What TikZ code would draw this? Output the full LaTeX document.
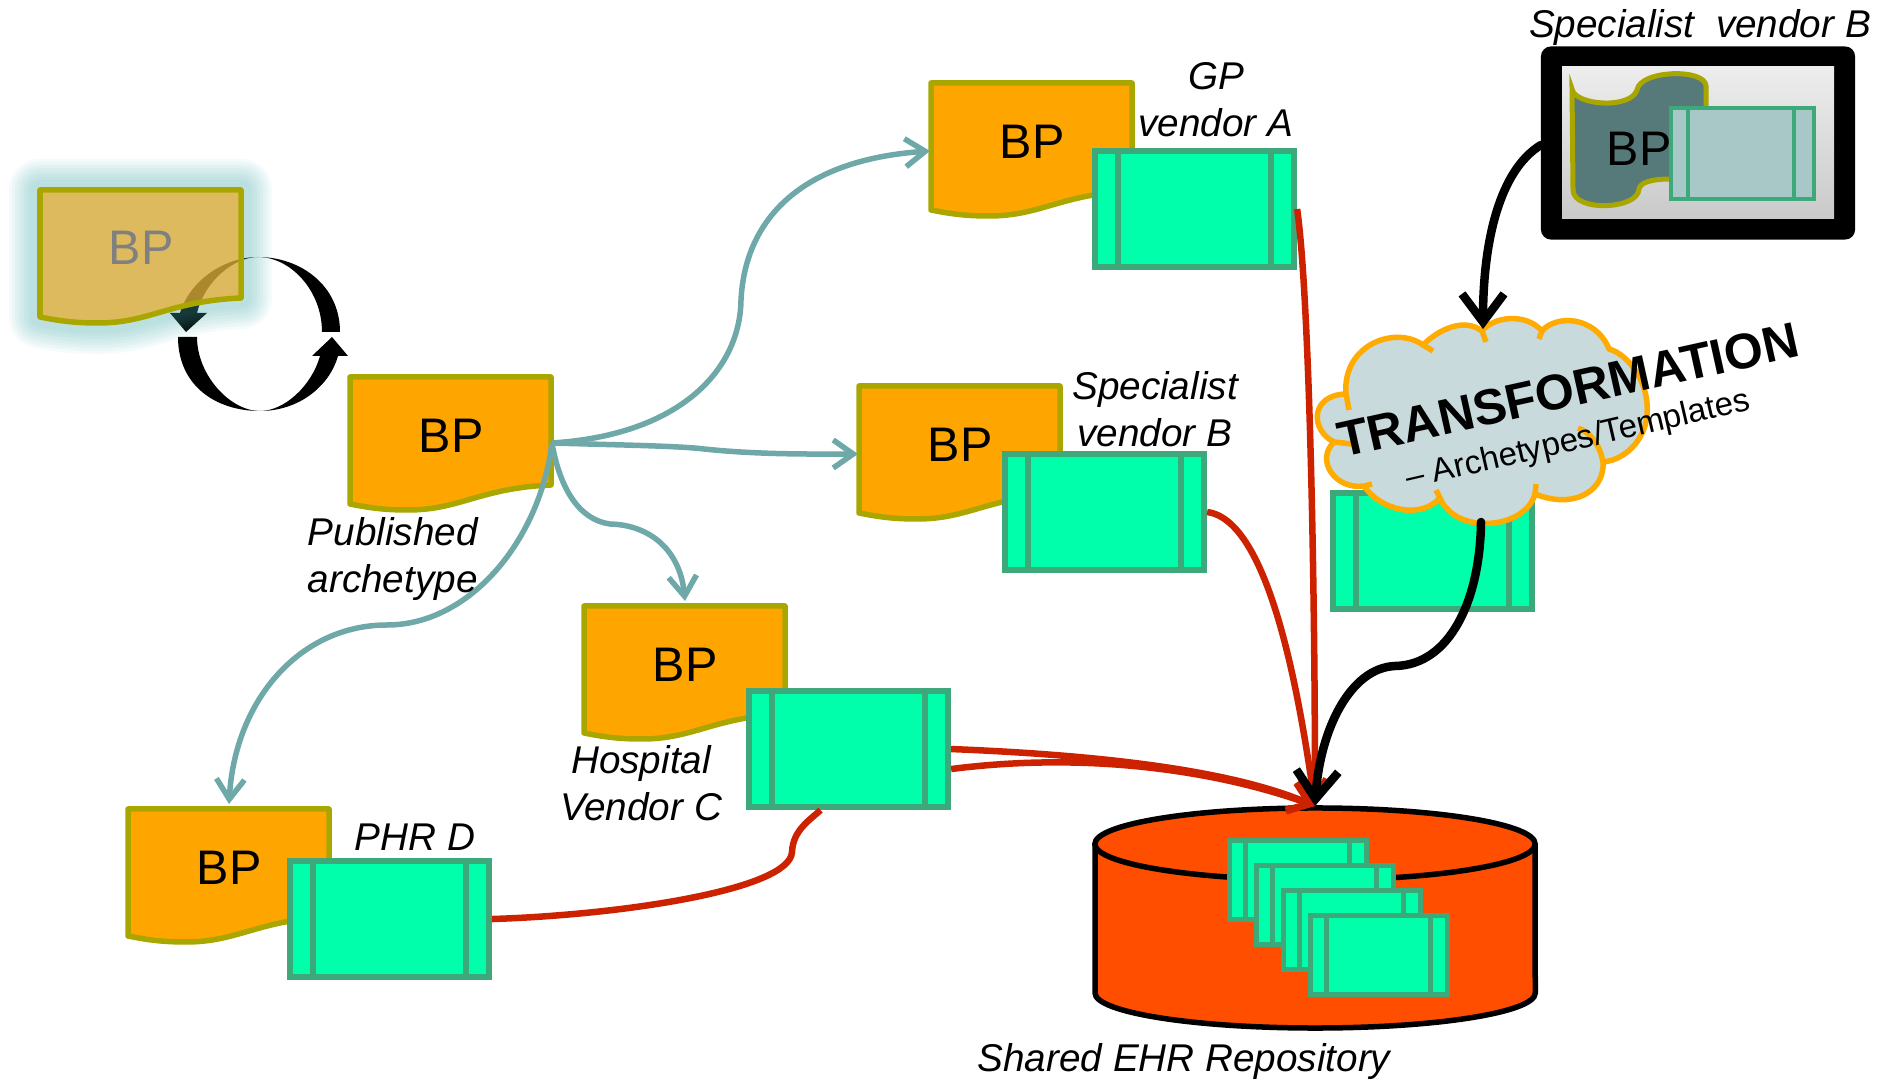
\documentclass[tikz,border=0pt]{standalone}
\usepackage{fontspec}
\setmainfont{Liberation Sans}
\usetikzlibrary{arrows.meta}
\definecolor{docfill}{HTML}{FFA500}
\definecolor{docline}{HTML}{AAA600}
\definecolor{boxfill}{HTML}{00FFAA}
\definecolor{boxline}{HTML}{3DA97A}
\definecolor{tealline}{HTML}{6FA8A8}
\definecolor{glowteal}{HTML}{46AAAA}
\definecolor{ghostfill}{HTML}{ECAA28}
\definecolor{redline}{HTML}{CC2200}
\definecolor{repofill}{HTML}{FF4E00}
\definecolor{cloudfill}{HTML}{C8DADC}
\definecolor{cloudline}{HTML}{FFAB00}
\definecolor{flagfill}{HTML}{567A7A}
\definecolor{paleboxfill}{HTML}{A8C8C8}
\newcommand{\bpoutline}{(0,0) -- (201,0) -- (201,108) .. controls (130,111) and (110,133) .. (58,133) .. controls (35,133) and (20,131) .. (0,127) -- cycle}
\tikzset{
  bptext/.style={font=\fontsize{13.8pt}{15pt}\selectfont,inner sep=0pt},
  vendortext/.style={font=\fontsize{11pt}{13.4pt}\selectfont\itshape,align=center,inner sep=0pt},
  boxshape/.style={draw=boxline,fill=boxfill,line width=.06cm,minimum width=1.99cm,minimum height=1.16cm,inner sep=0pt,outer sep=.03cm,anchor=north west},
  minishape/.style={draw=boxline,fill=boxfill,line width=.05cm,minimum width=1.37cm,minimum height=.79cm,inner sep=0pt,outer sep=.025cm,anchor=north west},
  tealarrow/.style={draw=tealline,line width=.055cm,-{Straight Barb[length=.2cm,width=.28cm]}},
  redarrow/.style={draw=redline,line width=.065cm},
  redtip/.style={redarrow,-{Straight Barb[length=.2cm,width=.3cm]}},
  blackarrow/.style={draw=black,line width=.085cm,line cap=round,-{Straight Barb[length=.28cm,width=.42cm]}},
  cloudtick/.style={draw=cloudline,line width=.055cm},
  pics/bpdoc/.style={code={
    \draw[fill=docfill,draw=docline,line width=.055cm,line join=round] \bpoutline;
    \node[bptext] (-label) at (101,59) {BP};
    \coordinate (-east) at (202,66);
    \coordinate (-west) at (-1,68);
    \coordinate (-north) at (101,-5);
  }},
  pics/ehrbox/.style={code={
    \node[boxshape] (-box) at (0,0) {};
    \draw[boxline,line width=.06cm] (26,3) -- (26,119);
    \draw[boxline,line width=.06cm] (179,3) -- (179,119);
  }},
  pics/minibox/.style={code={
    \node[minishape] (-box) at (0,0) {};
    \draw[boxline,line width=.05cm] (18,3) -- (18,81);
    \draw[boxline,line width=.05cm] (122,3) -- (122,81);
  }}
}
\begin{document}
\begin{tikzpicture}[x=.01cm,y=-.01cm]
  \useasboundingbox (0,0) rectangle (1894,1080);

  \fill (180,313) .. controls (190,280) and (225,257) .. (258,257) .. controls (300,257) and (340,285) .. (340,332) -- (322,332) .. controls (322,290) and (290,257) .. (258,257) .. controls (235,257) and (205,280) .. (197,313) -- (207,313) -- (186,332) -- (170,313) -- cycle;
  \fill (178,337) -- (197,337) .. controls (197,375) and (230,411) .. (260,411) .. controls (285,411) and (312,385) .. (320,356) -- (312,356) -- (332,337) -- (348,356) -- (338,356) .. controls (330,385) and (300,411) .. (260,411) .. controls (215,411) and (178,385) .. (178,337) -- cycle;

  \begin{scope}[shift={(40,190)}]
    \begin{scope}[even odd rule]
      \clip (-100,-100) rectangle (400,300) \bpoutline;
      \foreach \glowwidth in {.62,.56,.5,.44,.38,.32,.26,.2} {
        \draw[line width=\glowwidth cm,line join=round,draw=glowteal,opacity=.053] \bpoutline;
      }
    \end{scope}
    \fill[glowteal,opacity=.35] \bpoutline;
    \fill[ghostfill,fill opacity=.7] \bpoutline;
    \draw[draw=docline,line width=.055cm,line join=round] \bpoutline;
    \node[bptext,text=gray] (ghostlabel) at (101,58) {BP};
  \end{scope}

  \pic (pubdoc) at (350,377) {bpdoc};
  \pic (gpdoc) at (931,83) {bpdoc};
  \pic (specdoc) at (859,386) {bpdoc};
  \pic (hospdoc) at (584,606) {bpdoc};
  \pic (phrdoc) at (128,809) {bpdoc};

  \pic (gpbox) at (1092,148) {ehrbox};
  \pic (specbox) at (1002,451) {ehrbox};
  \pic (hospbox) at (746,688) {ehrbox};
  \pic (phrbox) at (287,858) {ehrbox};
  \pic (transbox) at (1330,490) {ehrbox};

  \draw[tealarrow] (pubdoc-east) .. controls (680,435) and (740,370) .. (741,300) .. controls (745,220) and (800,160) .. (gpdoc-west);
  \draw[tealarrow] (pubdoc-east) .. controls (620,445) and (680,446) .. (704,449) .. controls (760,455) and (820,454) .. (specdoc-west);
  \draw[tealarrow] (pubdoc-east) .. controls (560,490) and (580,520) .. (610,524) .. controls (650,525) and (680,550) .. (hospdoc-north);
  \draw[tealarrow] (pubdoc-east) .. controls (540,540) and (470,625) .. (387,625) .. controls (300,625) and (235,700) .. (phrdoc-north);

  \draw[fill=repofill,draw=black,line width=.055cm] (1095,844) -- (1095,993) arc[start angle=180,end angle=360,x radius=2.2cm,y radius=.35cm] -- (1535,844);
  \draw[fill=repofill,draw=black,line width=.055cm] (1315,844) ellipse[x radius=2.2cm,y radius=.36cm];
  \coordinate (repotop) at (1315,806);
  \pic (stackone) at (1227,838) {minibox};
  \pic (stacktwo) at (1254,863) {minibox};
  \pic (stackthree) at (1281,888) {minibox};
  \pic (stackfour) at (1308,913) {minibox};

  \draw[redtip] (gpbox-box.east) .. controls (1310,300) and (1315,600) .. (repotop);
  \draw[redtip] (specbox-box.east) .. controls (1270,520) and (1300,700) .. (repotop);
  \draw[redtip] (hospbox-box.east) .. controls (1100,755) and (1230,770) .. (repotop);
  \draw[redtip] ([yshift=-.2cm]hospbox-box.east) .. controls (1100,750) and (1230,775) .. (repotop);
  \draw[redarrow] (phrbox-box.east) .. controls (620,915) and (790,890) .. (792,852) .. controls (793,830) and (810,820) .. ([xshift=-.28cm]hospbox-box.south);

  \draw[fill=cloudfill,draw=cloudline,line width=.055cm,line join=round] (1346,394) .. controls (1342,345) and (1395,325) .. (1423,345) .. controls (1440,328) and (1465,318) .. (1482,331) .. controls (1493,317) and (1525,312) .. (1542,331) .. controls (1555,315) and (1595,315) .. (1609,349) .. controls (1630,355) and (1650,385) .. (1647,415) .. controls (1645,440) and (1625,460) .. (1603,462) .. controls (1605,490) and (1575,510) .. (1535,494) .. controls (1525,530) and (1455,535) .. (1440,498) .. controls (1420,520) and (1380,510) .. (1364,486) .. controls (1335,490) and (1315,460) .. (1334,442) .. controls (1310,430) and (1310,395) .. (1346,394) -- cycle;
  \draw[cloudtick] (1423,345) -- (1433,351);
  \draw[cloudtick] (1482,331) -- (1486,342);
  \draw[cloudtick] (1542,331) -- (1539,339);
  \draw[cloudtick] (1346,394) -- (1349,410);
  \draw[cloudtick] (1334,442) -- (1352,444);
  \draw[cloudtick] (1364,486) -- (1372,484);
  \draw[cloudtick] (1440,498) -- (1436,490);
  \draw[cloudtick] (1535,494) -- (1536,484);
  \draw[cloudtick] (1603,462) .. controls (1600,445) and (1590,432) .. (1578,428);
  \coordinate (cloudtop) at (1483,329);
  \coordinate (cloudbottom) at (1481,522);

  \node[rotate=12.5,font=\fontsize{14.2pt}{16pt}\selectfont\bfseries,inner sep=0pt] (transtitle) at (1568,390) {TRANSFORMATION};
  \node[rotate=13,font=\fontsize{9.4pt}{11pt}\selectfont,inner sep=0pt] (transsub) at (1578,441) {– Archetypes/Templates};

  \node[fill=black,rounded corners=.1cm,minimum width=3.14cm,minimum height=1.93cm,inner sep=0pt,outer sep=0pt] (tablet) at (1698,143) {};
  \shade[top color=black!7,bottom color=black!21] (1562,67) rectangle (1834,219);
  \draw[fill=flagfill,draw=docline,line width=.05cm] (1572,89) .. controls (1574,105) and (1630,110) .. (1637,90) .. controls (1640,70) and (1705,68) .. (1706,86) -- (1706,179) -- (1671,179) .. controls (1650,179) and (1640,183) .. (1639,189) .. controls (1638,210) and (1573,212) .. (1573,190) -- cycle;
  \node[bptext] (tabletlabel) at (1639,149) {BP};
  \node[boxshape,fill=paleboxfill,minimum width=1.43cm,minimum height=.91cm,line width=.045cm,outer sep=.02cm] (tabletbox) at (1669,106) {};
  \draw[boxline,line width=.045cm] (1688,107) -- (1688,200);
  \draw[boxline,line width=.045cm] (1794,107) -- (1794,200);

  \draw[blackarrow] (tablet.west) ++(0,-.02cm) .. controls (1500,170) and (1483,240) .. (cloudtop);
  \draw[blackarrow] (cloudbottom) .. controls (1480,600) and (1450,665) .. (1395,666) .. controls (1350,668) and (1320,730) .. (repotop);

  \node[vendortext] (gplabel) at (1216,100) {GP\\vendor A};
  \node[vendortext] (speclabel) at (1155,409) {Specialist\\vendor B};
  \node[vendortext,align=left,anchor=west] (publabel) at (307,559) {Published\\archetype};
  \node[vendortext] (hosplabel) at (641,783) {Hospital\\Vendor C};
  \node[vendortext] (phrlabel) at (415,837) {PHR D};
  \node[vendortext] (repolabel) at (1184,1061) {Shared EHR Repository};
  \node[vendortext] (tabletname) at (1700,28) {Specialist\ \ vendor B};
\end{tikzpicture}
\end{document}
